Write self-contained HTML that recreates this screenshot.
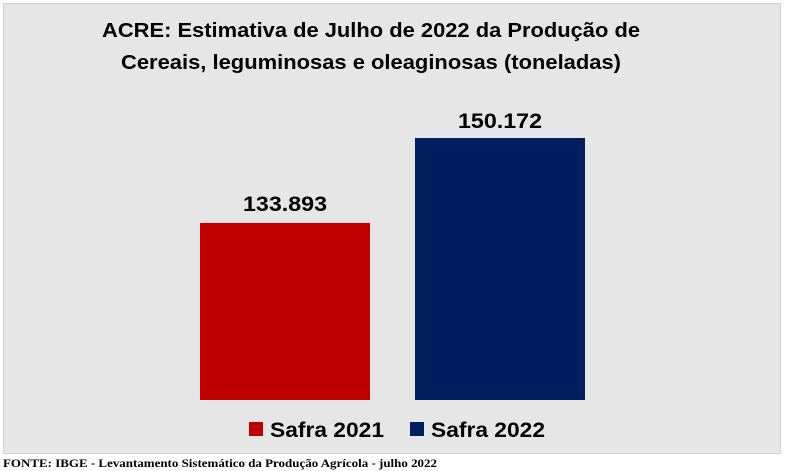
<!DOCTYPE html>
<html><head><meta charset="utf-8"><style>
html,body{margin:0;padding:0;background:#fff;width:785px;height:471px;overflow:hidden}
</style></head><body>
<svg width="785" height="471" xmlns="http://www.w3.org/2000/svg" font-family="Liberation Sans, sans-serif">
<rect x="3.5" y="3.5" width="777" height="450" fill="#e6e6e6" stroke="#d0d0d0"/>
<text x="371" y="37" text-anchor="middle" font-size="20" font-weight="bold" textLength="538" lengthAdjust="spacingAndGlyphs">ACRE: Estimativa de Julho de 2022 da Produção de</text>
<text x="371" y="69" text-anchor="middle" font-size="20" font-weight="bold" textLength="500" lengthAdjust="spacingAndGlyphs">Cereais, leguminosas e oleaginosas (toneladas)</text>
<rect x="200" y="223" width="170" height="177" fill="#c00000"/>
<rect x="415" y="138" width="170" height="262" fill="#001f5f"/>
<text x="285" y="211" text-anchor="middle" font-size="21" font-weight="bold" textLength="84" lengthAdjust="spacingAndGlyphs">133.893</text>
<text x="500" y="128" text-anchor="middle" font-size="21" font-weight="bold" textLength="84" lengthAdjust="spacingAndGlyphs">150.172</text>
<rect x="249" y="422" width="14" height="14" fill="#c00000"/>
<text x="270" y="437" font-size="21" font-weight="bold" textLength="114" lengthAdjust="spacingAndGlyphs">Safra 2021</text>
<rect x="410" y="422" width="14" height="14" fill="#001f5f"/>
<text x="431" y="437" font-size="21" font-weight="bold" textLength="114" lengthAdjust="spacingAndGlyphs">Safra 2022</text>
<text x="3" y="467" font-family="Liberation Serif, serif" font-size="12" font-weight="bold" textLength="434" lengthAdjust="spacingAndGlyphs">FONTE: IBGE - Levantamento Sistemático da Produção Agrícola - julho 2022</text>
</svg>
</body></html>
